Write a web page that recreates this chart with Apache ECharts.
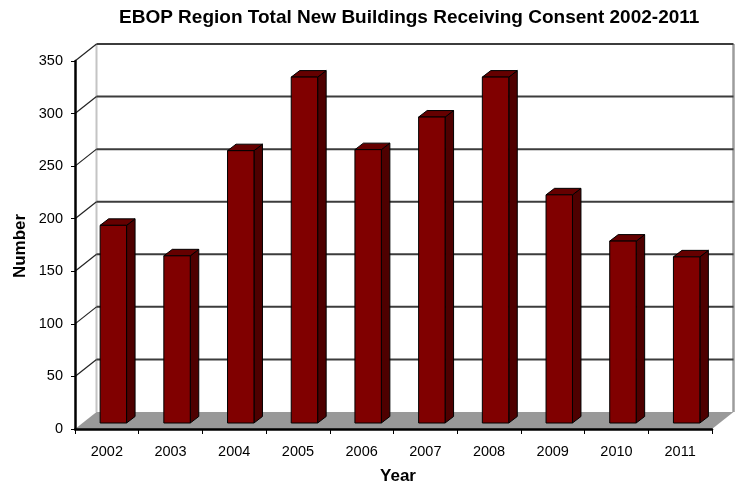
<!DOCTYPE html>
<html>
<head>
<meta charset="utf-8">
<title>EBOP Region Total New Buildings Receiving Consent 2002-2011</title>
<script src="https://cdn.jsdelivr.net/npm/echarts@6/dist/echarts.min.js"></script>
<style>
  html, body { margin: 0; padding: 0; background: #fff; }
  #chart { width: 741px; height: 487px; }
</style>
</head>
<body>
<div id="chart"></div>
<script>
// Consents for new buildings, Environment Bay of Plenty region
const years = ['2002', '2003', '2004', '2005', '2006', '2007', '2008', '2009', '2010', '2011'];
const consents = [188, 159, 259, 329, 260, 291, 329, 217, 173, 158];
const yTicks = [0, 50, 100, 150, 200, 250, 300, 350];

const FONT = '"Liberation Sans", Arial, Helvetica, sans-serif';

// Oblique projection used for the pseudo-3D box
const DX = 21.5, DY = -17;     // front plane -> back wall
const BX = 6.5, BY = -6;       // front plane -> front face of the columns
const SDX = 8.5, SDY = -6.5;   // column depth
const BAR_RATIO = 0.415;       // column width / category width

const chart = echarts.init(document.getElementById('chart'), null, { renderer: 'canvas' });

function renderFrame(params, api) {
  const catW = api.size([1, 0])[0];
  const left = api.coord([0, 0])[0] - catW / 2;
  const right = api.coord([years.length - 1, 0])[0] + catW / 2;
  const y0 = api.coord([0, 0])[1];
  const yTop = api.coord([0, yTicks[yTicks.length - 1]])[1];
  const children = [];

  // floor
  children.push({
    type: 'polygon',
    shape: { points: [[left, y0], [right, y0], [right + DX, y0 + DY], [left + DX, y0 + DY]] },
    style: { fill: '#999999', stroke: null }
  });
  // wall edges
  children.push({
    type: 'line',
    shape: { x1: left + DX, y1: y0 + DY, x2: left + DX, y2: yTop + DY },
    style: { stroke: '#c4c4c4', lineWidth: 2 }
  });
  children.push({
    type: 'line',
    shape: { x1: right + DX, y1: y0 + DY, x2: right + DX, y2: yTop + DY },
    style: { stroke: '#9c9c9c', lineWidth: 2.5 }
  });
  // gridlines on the back wall and the left side wall
  yTicks.forEach(function (v) {
    if (v === 0) return;
    const y = api.coord([0, v])[1];
    children.push({
      type: 'line',
      shape: { x1: left + DX, y1: y + DY, x2: right + DX, y2: y + DY },
      style: { stroke: '#3c3c3c', lineWidth: 2 }
    });
    children.push({
      type: 'line',
      shape: { x1: left, y1: y, x2: left + DX, y2: y + DY },
      style: { stroke: '#222', lineWidth: 1.2 }
    });
  });
  return { type: 'group', children: children };
}

function renderColumn(params, api) {
  const idx = api.value(0);
  const base = api.coord([idx, 0]);
  const top = api.coord([idx, api.value(1)]);
  const w = api.size([1, 0])[0] * BAR_RATIO;
  const cx = base[0] + BX;
  const x0 = cx - w / 2, x1 = cx + w / 2;
  const yb = base[1] + BY, yt = top[1] + BY;
  const edge = { stroke: '#000', lineWidth: 1 };
  return {
    type: 'group',
    children: [
      {
        type: 'polygon',
        shape: { points: [[x1, yt], [x1, yb], [x1 + SDX, yb + SDY], [x1 + SDX, yt + SDY]] },
        style: Object.assign({ fill: '#4e0000' }, edge)
      },
      {
        type: 'polygon',
        shape: { points: [[x0, yt], [x1, yt], [x1 + SDX, yt + SDY], [x0 + SDX, yt + SDY]] },
        style: Object.assign({ fill: '#650000' }, edge)
      },
      {
        type: 'rect',
        shape: { x: x0, y: yt, width: w, height: yb - yt },
        style: Object.assign({ fill: '#800000' }, edge)
      }
    ]
  };
}

chart.setOption({
  animation: false,
  backgroundColor: '#fff',
  title: {
    text: 'EBOP Region Total New Buildings Receiving Consent 2002-2011',
    left: 114,
    top: 3,
    textStyle: { fontFamily: FONT, fontSize: 19, fontWeight: 'bold', color: '#000' }
  },
  graphic: [
    {
      type: 'text',
      x: 20, y: 246,
      rotation: Math.PI / 2,
      style: {
        text: 'Number', fontFamily: FONT, fontSize: 17, fontWeight: 'bold', fill: '#000',
        align: 'center', verticalAlign: 'middle'
      }
    },
    {
      type: 'text',
      x: 398, y: 476,
      style: {
        text: 'Year', fontFamily: FONT, fontSize: 17, fontWeight: 'bold', fill: '#000',
        align: 'center', verticalAlign: 'middle'
      }
    }
  ],
  grid: { left: 75, right: 29, top: 61, bottom: 58, containLabel: false },
  xAxis: {
    type: 'category',
    data: years,
    z: 5,
    boundaryGap: true,
    axisLine: { show: true, lineStyle: { color: '#000', width: 2.5 } },
    axisTick: { show: true, interval: 0, length: 5, lineStyle: { color: '#000', width: 1 } },
    axisLabel: { interval: 0, margin: 15, color: '#000', fontFamily: FONT, fontSize: 14.5 },
    splitLine: { show: false }
  },
  yAxis: {
    type: 'value',
    min: 0,
    max: 350,
    interval: 50,
    z: 5,
    axisLine: { show: true, lineStyle: { color: '#000', width: 2.5 } },
    axisTick: { show: true, length: 4, lineStyle: { color: '#000', width: 1 } },
    axisLabel: { margin: 12, color: '#000', fontFamily: FONT, fontSize: 14.5 },
    splitLine: { show: false }
  },
  series: [
    {
      type: 'custom',
      name: 'frame',
      z: 1,
      silent: true,
      clip: false,
      renderItem: renderFrame,
      data: [[0, 0]]
    },
    {
      type: 'custom',
      name: 'Consents',
      z: 3,
      clip: false,
      renderItem: renderColumn,
      encode: { x: 0, y: 1 },
      data: consents.map(function (v, i) { return [i, v]; })
    }
  ]
});
</script>
</body>
</html>
